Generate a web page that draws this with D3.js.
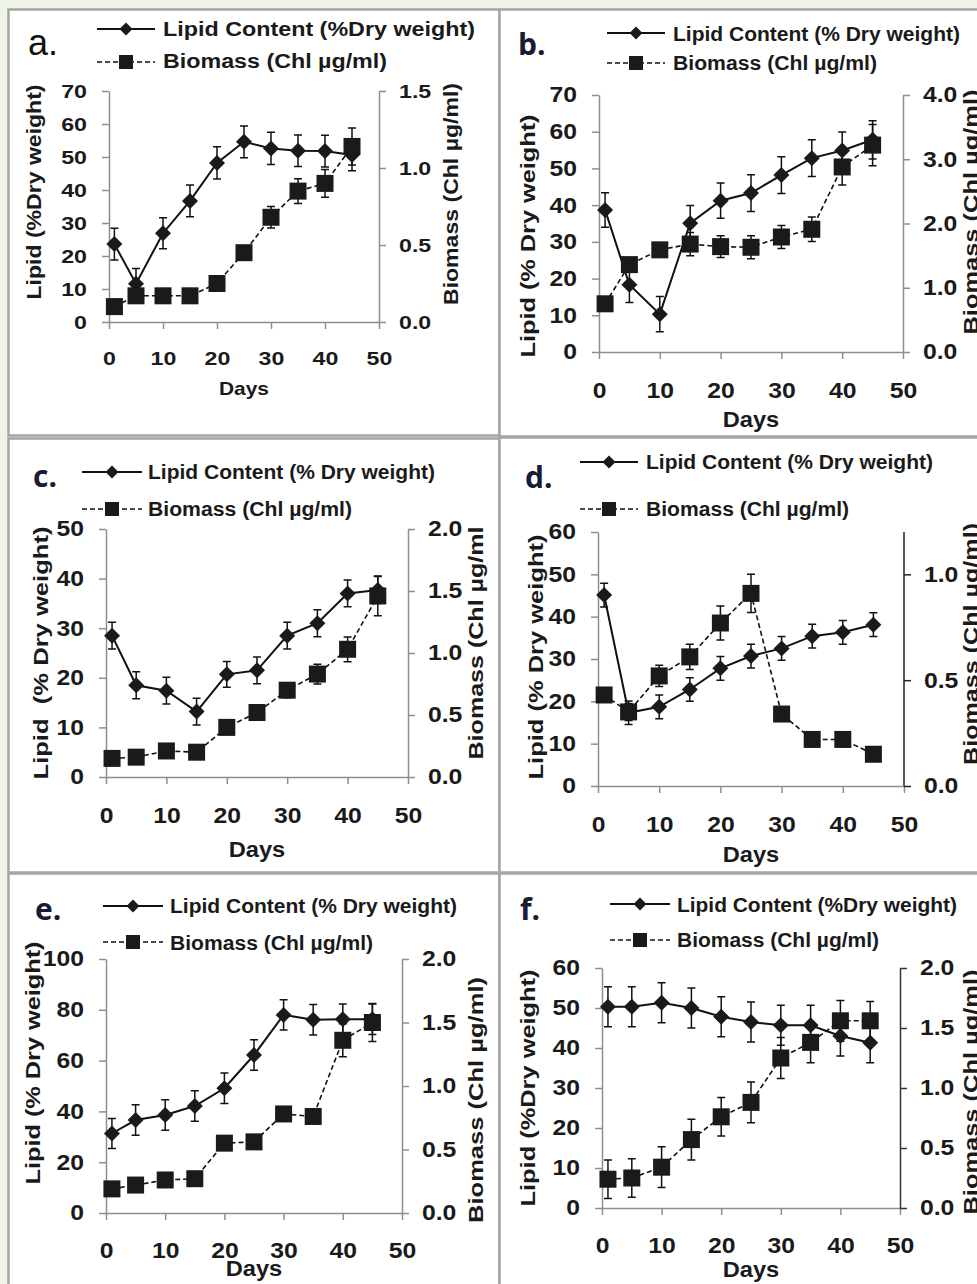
<!doctype html>
<meta charset="utf-8">
<style>
  body { margin: 0; background: #eef3e8; }
  svg text { font-family: "Liberation Sans", Arial, sans-serif; font-weight: bold; fill: #1a1a1a; }
  svg text.keep { white-space: pre; }
</style>
<body>
<script src="https://cdn.jsdelivr.net/npm/d3@7"></script>
<script>

let width = 977, height = 1284;
let grey = '#8e8e8e';

// sampling days, same for all six cultures
let days = [1, 5, 10, 15, 20, 25, 30, 35, 40, 45];
let dayTicks = [0, 10, 20, 30, 40, 50];

// a.
let lipidA    = [23.6, 11.6, 26.9, 36.7, 48.2, 54.6, 52.6, 51.9, 51.8, 50.6];
let lipidErrA = [4.8, 4.6, 4.7, 4.8, 4.9, 4.8, 4.9, 4.8, 4.8, 4.8];
let bioA      = [0.10, 0.17, 0.17, 0.17, 0.25, 0.45, 0.68, 0.85, 0.90, 1.14];
let bioErrA   = [0.02, 0.02, 0.02, 0.02, 0.02, 0.03, 0.07, 0.08, 0.09, 0.12];
let lipidTicksA = [0, 10, 20, 30, 40, 50, 60, 70];
let bioTicksA   = [0, 0.5, 1.0, 1.5];

// b.
let lipidB    = [38.7, 18.3, 10.3, 35.1, 41.2, 43.3, 48.2, 52.8, 54.9, 57.8];
let lipidErrB = [4.7, 4.8, 4.8, 4.8, 4.8, 5.0, 5.0, 5.0, 5.0, 5.2];
let bioB      = [0.75, 1.36, 1.59, 1.68, 1.64, 1.63, 1.79, 1.91, 2.88, 3.22];
let bioErrB   = [0.05, 0.08, 0.10, 0.18, 0.17, 0.18, 0.18, 0.19, 0.28, 0.32];
let lipidTicksB = [0, 10, 20, 30, 40, 50, 60, 70];
let bioTicksB   = [0, 1, 2, 3, 4];

// c.
let lipidC    = [28.5, 18.5, 17.4, 13.2, 20.7, 21.5, 28.5, 31.0, 37.0, 37.7];
let lipidErrC = [2.7, 2.7, 2.7, 2.7, 2.6, 2.7, 2.7, 2.7, 2.7, 2.7];
let bioC      = [0.15, 0.16, 0.21, 0.20, 0.40, 0.52, 0.70, 0.83, 1.03, 1.46];
let bioErrC   = [0.02, 0.02, 0.02, 0.02, 0.03, 0.03, 0.06, 0.08, 0.10, 0.16];
let lipidTicksC = [0, 10, 20, 30, 40, 50];
let bioTicksC   = [0, 0.5, 1.0, 1.5, 2.0];

// d.
let lipidD    = [45.1, 17.3, 18.7, 22.8, 27.8, 30.7, 32.5, 35.4, 36.3, 38.1];
let lipidErrD = [2.8, 2.8, 2.8, 2.8, 2.8, 2.8, 2.8, 2.8, 2.8, 2.8];
let bioD      = [0.43, 0.35, 0.52, 0.61, 0.77, 0.91, 0.34, 0.22, 0.22, 0.15];
let bioErrD   = [0.02, 0.04, 0.05, 0.06, 0.08, 0.09, 0.02, 0.02, 0.02, 0.02];
let lipidTicksD = [0, 10, 20, 30, 40, 50, 60];
let bioTicksD   = [0, 0.5, 1.0];

// e.
let lipidE    = [31.3, 36.6, 38.6, 42.1, 49.1, 62.2, 78.0, 76.1, 76.3, 76.3];
let lipidErrE = [5.9, 6.0, 6.0, 6.0, 6.0, 6.0, 6.0, 6.0, 6.0, 6.0];
let bioE      = [0.19, 0.22, 0.26, 0.27, 0.55, 0.56, 0.78, 0.76, 1.36, 1.50];
let bioErrE   = [0.02, 0.02, 0.03, 0.03, 0.03, 0.03, 0.04, 0.04, 0.13, 0.15];
let lipidTicksE = [0, 20, 40, 60, 80, 100];
let bioTicksE   = [0, 0.5, 1.0, 1.5, 2.0];

// f.
let lipidF    = [50.3, 50.3, 51.3, 50.0, 47.8, 46.5, 45.7, 45.7, 43.0, 41.3];
let lipidErrF = [5.0, 5.0, 5.0, 5.0, 5.0, 5.0, 5.0, 5.0, 5.0, 5.0];
let bioF      = [0.24, 0.25, 0.34, 0.57, 0.76, 0.88, 1.25, 1.38, 1.56, 1.56];
let bioErrF   = [0.16, 0.16, 0.17, 0.17, 0.16, 0.17, 0.17, 0.17, 0.17, 0.16];
let lipidTicksF = [0, 10, 20, 30, 40, 50, 60];
let bioTicksF   = [0, 0.5, 1.0, 1.5, 2.0];

let lipidLabel = 'Lipid Content (% Dry weight)',
    bioLabel = 'Biomass (Chl µg/ml)';

// layout of each panel (pixel positions only)
let panels = [
  { letter: 'a.', plain: true, lx: 28, ly: 55,
    box: [8.5, 9.5, 491, 426],
    x0: 109, x1: 379, yTop: 91, yBot: 322, font: 19, stretch: 1.22, xLab: 43, daysY: 395,
    lipid: lipidA, lipidErr: lipidErrA, bio: bioA, bioErr: bioErrA,
    lipidTicks: lipidTicksA, bioTicks: bioTicksA, bioMax: 1.5, rightColor: grey,
    leftT: ['Lipid (%Dry weight)', 41, 192, 215], rightT: [bioLabel, 458, 194, 222],
    leg: { x0: 97, x1: 155, tx: 163, y1: 29, y2: 62, b1: 36, b2: 68, len1: 312, len2: 224, t1: 'Lipid Content (%Dry weight)' } },
  { letter: 'b.', lx: 518, ly: 55,
    box: [499.5, 9.5, 490, 427],
    x0: 599, x1: 903, yTop: 95, yBot: 352, font: 21.5, stretch: 1.15, xLab: 46, daysY: 427,
    lipid: lipidB, lipidErr: lipidErrB, bio: bioB, bioErr: bioErrB,
    lipidTicks: lipidTicksB, bioTicks: bioTicksB, bioMax: 4, rightColor: grey,
    leftT: ['Lipid (% Dry weight)', 535, 236, 243], rightT: [bioLabel, 978, 212, 245],
    leg: { x0: 607, x1: 665, tx: 673, y1: 33, y2: 63, b1: 41, b2: 70, len1: 287, len2: 204, t1: lipidLabel } },
  { letter: 'c.', lx: 33, ly: 487,
    box: [8.5, 438.5, 491, 434],
    x0: 106, x1: 408, yTop: 529, yBot: 777, font: 21.5, stretch: 1.15, xLab: 46, daysY: 857,
    lipid: lipidC, lipidErr: lipidErrC, bio: bioC, bioErr: bioErrC,
    lipidTicks: lipidTicksC, bioTicks: bioTicksC, bioMax: 2, rightColor: grey,
    leftT: ['Lipid  (% Dry weight)', 48, 653, 253], rightT: ['Biomass (Chl µg/ml', 483, 643, 233],
    leg: { x0: 82, x1: 142, tx: 148, y1: 472, y2: 509, b1: 479, b2: 516, len1: 287, len2: 204, t1: lipidLabel } },
  { letter: 'd.', lx: 525, ly: 488,
    box: [499.5, 437.5, 490, 435],
    x0: 598, x1: 904, yTop: 532, yBot: 786, font: 21.5, stretch: 1.15, xLab: 46, daysY: 862,
    lipid: lipidD, lipidErr: lipidErrD, bio: bioD, bioErr: bioErrD,
    lipidTicks: lipidTicksD, bioTicks: bioTicksD, bioMax: 1.2, rightColor: '#222',
    leftT: ['Lipid (% Dry weight)', 543, 657, 245], rightT: [bioLabel, 978, 644, 242],
    leg: { x0: 580, x1: 638, tx: 646, y1: 462, y2: 509, b1: 469, b2: 516, len1: 287, len2: 203, t1: lipidLabel } },
  { letter: 'e.', lx: 35, ly: 920,
    box: [8.5, 873.5, 491, 430],
    x0: 106, x1: 402, yTop: 959, yBot: 1213, font: 21.5, stretch: 1.15, xLab: 45, daysY: 1276,
    lipid: lipidE, lipidErr: lipidErrE, bio: bioE, bioErr: bioErrE,
    lipidTicks: lipidTicksE, bioTicks: bioTicksE, bioMax: 2, rightColor: grey,
    leftT: ['Lipid (% Dry weight)', 40, 1063, 243], rightT: [bioLabel, 483, 1100, 246],
    leg: { x0: 103, x1: 163, tx: 170, y1: 906, y2: 942, b1: 913, b2: 950, len1: 287, len2: 203, t1: lipidLabel } },
  { letter: 'f.', lx: 520, ly: 920,
    box: [499.5, 873.5, 490, 430],
    x0: 602, x1: 900, yTop: 968, yBot: 1208, font: 21.5, stretch: 1.15, xLab: 45, daysY: 1277,
    lipid: lipidF, lipidErr: lipidErrF, bio: bioF, bioErr: bioErrF,
    lipidTicks: lipidTicksF, bioTicks: bioTicksF, bioMax: 2, rightColor: '#333',
    leftT: ['Lipid (%Dry weight)', 535, 1088, 237], rightT: [bioLabel, 978, 1092, 245],
    leg: { x0: 610, x1: 670, tx: 677, y1: 904, y2: 940, b1: 912, b2: 947, len1: 280, len2: 202, t1: 'Lipid Content (%Dry weight)' } }
];

let svg = d3.select('body')
    .append('svg')
    .attr('width', width)
    .attr('height', height);

svg.append('rect').attr('width', width).attr('height', height).attr('fill', '#eef3e8');

function diamond(h) {
  return 'M0,' + (-h) + 'L' + h + ',0L0,' + h + 'L' + (-h) + ',0Z';
}

// the source figure uses a wider face than Arial, so widen the numbers a bit
function widen(sel, k) {
  sel.each(function() {
    let w = this.getComputedTextLength();
    d3.select(this).attr('textLength', w * k).attr('lengthAdjust', 'spacingAndGlyphs');
  });
}

panels.forEach(drawPanel);

function drawPanel(p) {
  let g = svg.append('g');

  g.append('rect')
      .attr('x', p.box[0]).attr('y', p.box[1])
      .attr('width', p.box[2]).attr('height', p.box[3])
      .attr('fill', '#fff')
      .attr('stroke', '#a5a5a5')
      .attr('stroke-width', 2.5);

  let x = d3.scaleLinear().domain([0, 50]).range([p.x0, p.x1]);
  let yL = d3.scaleLinear().domain([0, d3.max(p.lipidTicks)]).range([p.yBot, p.yTop]);
  let yR = d3.scaleLinear().domain([0, p.bioMax]).range([p.yBot, p.yTop]);

  // axes
  let ax = g.append('g')
      .attr('transform', 'translate(0,' + p.yBot + ')')
      .call(d3.axisBottom(x).tickValues(dayTicks).tickSize(7).tickSizeOuter(0));
  ax.selectAll('text').attr('y', p.xLab).attr('dy', null);

  let al = g.append('g')
      .attr('transform', 'translate(' + p.x0 + ',0)')
      .call(d3.axisLeft(yL).tickValues(p.lipidTicks).tickSize(7).tickSizeOuter(0).tickPadding(15));

  let ar = g.append('g')
      .attr('transform', 'translate(' + p.x1 + ',0)')
      .call(d3.axisRight(yR).tickValues(p.bioTicks).tickSize(7).tickSizeOuter(0).tickPadding(13)
        .tickFormat(d3.format('.1f')));
  if (p.bioMax !== d3.max(p.bioTicks)) {
    ar.select('.domain').attr('d', 'M0,' + p.yBot + 'V' + p.yTop);
  }

  [ax, al].forEach(a => a.attr('color', grey).attr('font-size', p.font));
  ar.attr('color', p.rightColor).attr('font-size', p.font);
  [ax, al, ar].forEach(a => {
    a.selectAll('path, line').attr('stroke-width', 1.5);
    widen(a.selectAll('text'), p.stretch);
  });

  let days_t = g.append('text')
      .attr('x', (p.x0 + p.x1) / 2).attr('y', p.daysY)
      .attr('text-anchor', 'middle')
      .attr('font-size', p.font)
      .text('Days');
  widen(days_t, 1.1);

  // rotated axis titles
  [p.leftT, p.rightT].forEach(t => {
    g.append('text')
        .attr('class', 'keep')
        .attr('transform', 'translate(' + t[1] + ',' + t[2] + ') rotate(-90)')
        .attr('text-anchor', 'middle')
        .attr('font-size', 21)
        .attr('textLength', t[3])
        .attr('lengthAdjust', 'spacingAndGlyphs')
        .text(t[0]);
  });

  // panel letter
  let lt = g.append('text')
      .attr('x', p.lx).attr('y', p.ly)
      .text(p.letter);
  if (p.plain) {
    lt.attr('font-size', 36).style('font-weight', 'normal').style('fill', '#111');
  } else {
    lt.attr('font-size', 30).style('font-family', '"Open Sans", sans-serif').style('fill', '#1b1b33');
  }

  // series points: [x, y, y of lower error, y of upper error]
  let lipidPts = days.map((d, i) => [x(d), yL(p.lipid[i]), yL(p.lipid[i] - p.lipidErr[i]), yL(p.lipid[i] + p.lipidErr[i])]);
  let bioPts = days.map((d, i) => [x(d), yR(p.bio[i]), yR(p.bio[i] - p.bioErr[i]), yR(p.bio[i] + p.bioErr[i])]);

  let line = d3.line().x(d => d[0]).y(d => d[1]);

  g.append('path')
      .attr('d', line(lipidPts))
      .attr('fill', 'none').attr('stroke', '#111').attr('stroke-width', 2);
  g.append('path')
      .attr('d', line(bioPts))
      .attr('fill', 'none').attr('stroke', '#111').attr('stroke-width', 1.6)
      .attr('stroke-dasharray', '5,3');

  [lipidPts, bioPts].forEach(pts => {
    let eb = g.append('g').attr('stroke', '#111').attr('stroke-width', 1.5).attr('fill', 'none');
    eb.selectAll('path').data(pts).enter().append('path')
        .attr('d', d => 'M' + d[0] + ',' + d[2] + 'V' + d[3] +
                        'M' + (d[0] - 4) + ',' + d[2] + 'h8' +
                        'M' + (d[0] - 4) + ',' + d[3] + 'h8');
  });

  g.selectAll('.dia').data(lipidPts).enter().append('path')
      .attr('class', 'dia')
      .attr('transform', d => 'translate(' + d[0] + ',' + d[1] + ')')
      .attr('d', diamond(8))
      .attr('fill', '#1a1a1a');

  g.selectAll('.sq').data(bioPts).enter().append('rect')
      .attr('class', 'sq')
      .attr('x', d => d[0] - 8.5).attr('y', d => d[1] - 8.5)
      .attr('width', 17).attr('height', 17)
      .attr('fill', '#1a1a1a');

  // legend
  let L = p.leg, mid = (L.x0 + L.x1) / 2;
  g.append('line')
      .attr('x1', L.x0).attr('x2', L.x1).attr('y1', L.y1).attr('y2', L.y1)
      .attr('stroke', '#111').attr('stroke-width', 2);
  g.append('path')
      .attr('transform', 'translate(' + mid + ',' + L.y1 + ')')
      .attr('d', diamond(6.5)).attr('fill', '#1a1a1a');
  g.append('line')
      .attr('x1', L.x0).attr('x2', L.x1).attr('y1', L.y2).attr('y2', L.y2)
      .attr('stroke', '#111').attr('stroke-width', 1.6).attr('stroke-dasharray', '5,3');
  g.append('rect')
      .attr('x', mid - 7).attr('y', L.y2 - 7).attr('width', 14).attr('height', 14)
      .attr('fill', '#1a1a1a');

  g.append('text')
      .attr('x', L.tx).attr('y', L.b1)
      .attr('font-size', 20)
      .attr('textLength', L.len1).attr('lengthAdjust', 'spacingAndGlyphs')
      .text(L.t1);
  g.append('text')
      .attr('x', L.tx).attr('y', L.b2)
      .attr('font-size', 20)
      .attr('textLength', L.len2).attr('lengthAdjust', 'spacingAndGlyphs')
      .text(bioLabel);
}

</script>
